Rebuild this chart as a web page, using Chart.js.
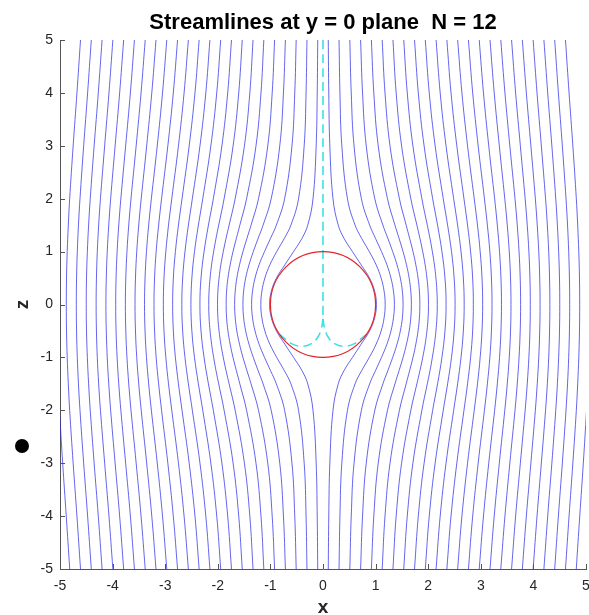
<!DOCTYPE html>
<html>
<head>
<meta charset="utf-8">
<script src="https://cdn.jsdelivr.net/npm/chart.js@4.4.1/dist/chart.umd.min.js"></script>
<style>
  html, body { margin: 0; padding: 0; background: #fff; overflow: hidden; }
  #wrap { position: relative; width: 620px; height: 615px; }
  #dot { position: absolute; left: 15px; top: 439px; width: 14px; height: 14px; border-radius: 50%; background: #000; }
</style>
</head>
<body>
<div id="wrap"><canvas id="chart" width="620" height="615"></canvas></div>
<div id="dot"></div>
<script>
// streamlines past a unit sphere, y = 0 plane
const title = "Streamlines at y = 0 plane  N = 12";

const innerLevels = [5, 4, 3, 2, 1.5, 1.25, 1, 0.75, 0.5, 0.25, 0, -0.25, -0.5, -0.75, -1, -1.25, -1.5, -2, -3, -4, -5];
const outerLevels = [5, 4, 3, 2, 1.5, 1, 0.5, 0, -0.5, -1, -1.5, -2, -3, -4, -5];

// lines close to the sphere (innerLevels)
const innerLeftX = [
  [-0.100, -0.110, -0.130, -0.190, -0.290, -0.400, -0.560, -0.725, -0.885, -0.982, -1.015, -0.982, -0.885, -0.725, -0.560, -0.400, -0.290, -0.190, -0.130, -0.110, -0.100],
  [-0.305, -0.322, -0.358, -0.465, -0.610, -0.735, -0.880, -1.010, -1.105, -1.162, -1.182, -1.162, -1.105, -1.010, -0.880, -0.735, -0.610, -0.465, -0.358, -0.322, -0.305],
  [-0.510, -0.537, -0.590, -0.730, -0.887, -0.998, -1.112, -1.215, -1.292, -1.340, -1.357, -1.340, -1.292, -1.215, -1.112, -0.998, -0.887, -0.730, -0.590, -0.537, -0.510],
  [-0.715, -0.752, -0.822, -0.985, -1.139, -1.233, -1.325, -1.407, -1.470, -1.509, -1.522, -1.509, -1.470, -1.407, -1.325, -1.233, -1.139, -0.985, -0.822, -0.752, -0.715],
  [-0.920, -0.966, -1.050, -1.226, -1.368, -1.446, -1.522, -1.587, -1.638, -1.669, -1.680, -1.669, -1.638, -1.587, -1.522, -1.446, -1.368, -1.226, -1.050, -0.966, -0.920],
  [-1.125, -1.179, -1.274, -1.453, -1.581, -1.647, -1.711, -1.765, -1.807, -1.833, -1.841, -1.833, -1.807, -1.765, -1.711, -1.647, -1.581, -1.453, -1.274, -1.179, -1.125],
  [-1.330, -1.391, -1.494, -1.670, -1.785, -1.843, -1.896, -1.942, -1.976, -1.998, -2.005, -1.998, -1.976, -1.942, -1.896, -1.843, -1.785, -1.670, -1.494, -1.391, -1.330],
  [-1.535, -1.602, -1.709, -1.880, -1.983, -2.034, -2.079, -2.118, -2.147, -2.166, -2.172, -2.166, -2.147, -2.118, -2.079, -2.034, -1.983, -1.880, -1.709, -1.602, -1.535],
];
const innerRightX = [
  [0.100, 0.110, 0.130, 0.190, 0.290, 0.400, 0.560, 0.725, 0.885, 0.982, 1.015, 0.982, 0.885, 0.725, 0.560, 0.400, 0.290, 0.190, 0.130, 0.110, 0.100],
  [0.305, 0.322, 0.358, 0.465, 0.610, 0.735, 0.880, 1.010, 1.105, 1.162, 1.182, 1.162, 1.105, 1.010, 0.880, 0.735, 0.610, 0.465, 0.358, 0.322, 0.305],
  [0.510, 0.537, 0.590, 0.730, 0.887, 0.998, 1.112, 1.215, 1.292, 1.340, 1.357, 1.340, 1.292, 1.215, 1.112, 0.998, 0.887, 0.730, 0.590, 0.537, 0.510],
  [0.715, 0.752, 0.822, 0.985, 1.139, 1.233, 1.325, 1.407, 1.470, 1.509, 1.522, 1.509, 1.470, 1.407, 1.325, 1.233, 1.139, 0.985, 0.822, 0.752, 0.715],
  [0.920, 0.966, 1.050, 1.226, 1.368, 1.446, 1.522, 1.587, 1.638, 1.669, 1.680, 1.669, 1.638, 1.587, 1.522, 1.446, 1.368, 1.226, 1.050, 0.966, 0.920],
  [1.125, 1.179, 1.274, 1.453, 1.581, 1.647, 1.711, 1.765, 1.807, 1.833, 1.841, 1.833, 1.807, 1.765, 1.711, 1.647, 1.581, 1.453, 1.274, 1.179, 1.125],
  [1.330, 1.391, 1.494, 1.670, 1.785, 1.843, 1.896, 1.942, 1.976, 1.998, 2.005, 1.998, 1.976, 1.942, 1.896, 1.843, 1.785, 1.670, 1.494, 1.391, 1.330],
  [1.535, 1.602, 1.709, 1.880, 1.983, 2.034, 2.079, 2.118, 2.147, 2.166, 2.172, 2.166, 2.147, 2.118, 2.079, 2.034, 1.983, 1.880, 1.709, 1.602, 1.535],
];

// lines further out (outerLevels); null = line already left the box
const outerLeftX = [
  [-1.740, -1.812, -1.922, -2.085, -2.178, -2.261, -2.319, -2.340, -2.319, -2.261, -2.178, -2.085, -1.922, -1.812, -1.740],
  [-1.945, -2.020, -2.132, -2.286, -2.369, -2.443, -2.493, -2.511, -2.493, -2.443, -2.369, -2.286, -2.132, -2.020, -1.945],
  [-2.150, -2.228, -2.339, -2.484, -2.559, -2.624, -2.668, -2.684, -2.668, -2.624, -2.559, -2.484, -2.339, -2.228, -2.150],
  [-2.355, -2.434, -2.544, -2.680, -2.748, -2.806, -2.845, -2.858, -2.845, -2.806, -2.748, -2.680, -2.544, -2.434, -2.355],
  [-2.560, -2.641, -2.748, -2.875, -2.937, -2.988, -3.023, -3.035, -3.023, -2.988, -2.937, -2.875, -2.748, -2.641, -2.560],
  [-2.765, -2.846, -2.950, -3.069, -3.125, -3.172, -3.202, -3.213, -3.202, -3.172, -3.125, -3.069, -2.950, -2.846, -2.765],
  [-2.970, -3.051, -3.151, -3.263, -3.314, -3.356, -3.383, -3.393, -3.383, -3.356, -3.314, -3.263, -3.151, -3.051, -2.970],
  [-3.175, -3.255, -3.352, -3.456, -3.503, -3.541, -3.565, -3.574, -3.565, -3.541, -3.503, -3.456, -3.352, -3.255, -3.175],
  [-3.380, -3.459, -3.552, -3.650, -3.693, -3.727, -3.749, -3.757, -3.749, -3.727, -3.693, -3.650, -3.552, -3.459, -3.380],
  [-3.585, -3.662, -3.752, -3.843, -3.883, -3.914, -3.934, -3.941, -3.934, -3.914, -3.883, -3.843, -3.752, -3.662, -3.585],
  [-3.790, -3.866, -3.952, -4.037, -4.073, -4.102, -4.120, -4.127, -4.120, -4.102, -4.073, -4.037, -3.952, -3.866, -3.790],
  [-3.995, -4.069, -4.151, -4.231, -4.265, -4.291, -4.307, -4.313, -4.307, -4.291, -4.265, -4.231, -4.151, -4.069, -3.995],
  [-4.200, -4.272, -4.351, -4.425, -4.456, -4.480, -4.496, -4.501, -4.496, -4.480, -4.456, -4.425, -4.351, -4.272, -4.200],
  [-4.405, -4.475, -4.550, -4.620, -4.649, -4.671, -4.685, -4.690, -4.685, -4.671, -4.649, -4.620, -4.550, -4.475, -4.405],
  [-4.610, -4.678, -4.750, -4.816, -4.842, -4.863, -4.876, -4.880, -4.876, -4.863, -4.842, -4.816, -4.750, -4.678, -4.610],
  [null, null, null, null, null, null, null, null, null, -5.055, -5.035, -5.010, -4.949, -4.881, -4.815],
];
const outerRightX = [
  [1.740, 1.812, 1.922, 2.085, 2.178, 2.261, 2.319, 2.340, 2.319, 2.261, 2.178, 2.085, 1.922, 1.812, 1.740],
  [1.945, 2.020, 2.132, 2.286, 2.369, 2.443, 2.493, 2.511, 2.493, 2.443, 2.369, 2.286, 2.132, 2.020, 1.945],
  [2.150, 2.228, 2.339, 2.484, 2.559, 2.624, 2.668, 2.684, 2.668, 2.624, 2.559, 2.484, 2.339, 2.228, 2.150],
  [2.355, 2.434, 2.544, 2.680, 2.748, 2.806, 2.845, 2.858, 2.845, 2.806, 2.748, 2.680, 2.544, 2.434, 2.355],
  [2.560, 2.641, 2.748, 2.875, 2.937, 2.988, 3.023, 3.035, 3.023, 2.988, 2.937, 2.875, 2.748, 2.641, 2.560],
  [2.765, 2.846, 2.950, 3.069, 3.125, 3.172, 3.202, 3.213, 3.202, 3.172, 3.125, 3.069, 2.950, 2.846, 2.765],
  [2.970, 3.051, 3.151, 3.263, 3.314, 3.356, 3.383, 3.393, 3.383, 3.356, 3.314, 3.263, 3.151, 3.051, 2.970],
  [3.175, 3.255, 3.352, 3.456, 3.503, 3.541, 3.565, 3.574, 3.565, 3.541, 3.503, 3.456, 3.352, 3.255, 3.175],
  [3.380, 3.459, 3.552, 3.650, 3.693, 3.727, 3.749, 3.757, 3.749, 3.727, 3.693, 3.650, 3.552, 3.459, 3.380],
  [3.585, 3.662, 3.752, 3.843, 3.883, 3.914, 3.934, 3.941, 3.934, 3.914, 3.883, 3.843, 3.752, 3.662, 3.585],
  [3.790, 3.866, 3.952, 4.037, 4.073, 4.102, 4.120, 4.127, 4.120, 4.102, 4.073, 4.037, 3.952, 3.866, 3.790],
  [3.995, 4.069, 4.151, 4.231, 4.265, 4.291, 4.307, 4.313, 4.307, 4.291, 4.265, 4.231, 4.151, 4.069, 3.995],
  [4.200, 4.272, 4.351, 4.425, 4.456, 4.480, 4.496, 4.501, 4.496, 4.480, 4.456, 4.425, 4.351, 4.272, 4.200],
  [4.405, 4.475, 4.550, 4.620, 4.649, 4.671, 4.685, 4.690, 4.685, 4.671, 4.649, 4.620, 4.550, 4.475, 4.405],
  [4.610, 4.678, 4.750, 4.816, 4.842, 4.863, 4.876, 4.880, 4.876, 4.863, 4.842, 4.816, 4.750, 4.678, 4.610],
  [null, null, null, null, null, null, null, null, null, 5.055, 5.035, 5.010, 4.949, 4.881, 4.815],
];

// cyan dashed dividing line (axis, then two branches inside the sphere)
const cyanAxisX = [0, 0];
const cyanAxisZ = [5, -0.27];
const cyanLeftX = [0, -0.03, -0.10, -0.22, -0.40, -0.60, -0.82];
const cyanLeftZ = [-0.27, -0.45, -0.62, -0.74, -0.79, -0.74, -0.57];
const cyanRightX = [0, 0.03, 0.10, 0.22, 0.40, 0.60, 0.82];
const cyanRightZ = [-0.27, -0.45, -0.62, -0.74, -0.79, -0.74, -0.57];

const sphere = { x: 0, z: 0, r: 1 };

const font = "'Liberation Sans', Arial, Helvetica, sans-serif";
const ink = "#262626";
const blue = "rgba(35, 35, 230, 0.7)";
const cyan = "#3fe0e3";

function pts(xs, zs) {
  return xs.map((x, i) => ({ x, y: zs[i] })).filter((p) => p.x !== null);
}

function stream(xs, zs) {
  return { data: pts(xs, zs), borderColor: blue, borderWidth: 1, tension: 0.4, showLine: true, pointRadius: 0, clip: 0 };
}

function dashed(xs, zs) {
  return { data: pts(xs, zs), borderColor: cyan, borderWidth: 1.6, borderDash: [9, 5], tension: 0.4, showLine: true, pointRadius: 0, clip: 0 };
}

const datasets = [
  ...innerLeftX.map((xs) => stream(xs, innerLevels)),
  ...innerRightX.map((xs) => stream(xs, innerLevels)),
  ...outerLeftX.map((xs) => stream(xs, outerLevels)),
  ...outerRightX.map((xs) => stream(xs, outerLevels)),
  dashed(cyanAxisX, cyanAxisZ),
  dashed(cyanLeftX, cyanLeftZ),
  dashed(cyanRightX, cyanRightZ),
];

const decor = {
  id: "decor",
  afterDatasetsDraw(chart) {
    const { ctx, chartArea: a, scales: { x, y } } = chart;
    const cx = x.getPixelForValue(sphere.x);
    const cy = y.getPixelForValue(sphere.z);
    const rx = x.getPixelForValue(sphere.x + sphere.r) - cx;
    const ry = cy - y.getPixelForValue(sphere.z + sphere.r);
    ctx.save();
    ctx.strokeStyle = "#e2262a";
    ctx.lineWidth = 1.2;
    ctx.beginPath();
    ctx.ellipse(cx, cy, rx, ry, 0, 0, Math.PI * 2);
    ctx.stroke();

    // matlab-style ticks pointing inwards
    ctx.strokeStyle = "#555";
    ctx.lineWidth = 1;
    ctx.beginPath();
    for (const t of x.ticks) {
      const p = Math.round(x.getPixelForValue(t.value)) + 0.5;
      ctx.moveTo(p, a.bottom);
      ctx.lineTo(p, a.bottom - 5);
    }
    for (const t of y.ticks) {
      const p = Math.round(y.getPixelForValue(t.value)) + 0.5;
      ctx.moveTo(a.left, p);
      ctx.lineTo(a.left + 5, p);
    }
    ctx.stroke();

    ctx.fillStyle = "#000";
    ctx.font = "bold 22px " + font;
    ctx.textAlign = "center";
    ctx.textBaseline = "middle";
    ctx.fillText(title, (a.left + a.right) / 2, 23);
    ctx.restore();
  },
};

new Chart(document.getElementById("chart"), {
  type: "scatter",
  data: { datasets },
  plugins: [decor],
  options: {
    responsive: false,
    animation: false,
    devicePixelRatio: 1,
    layout: { padding: { top: 40, right: 34, bottom: 0, left: 0 } },
    plugins: { legend: { display: false }, tooltip: { enabled: false } },
    scales: {
      x: {
        type: "linear",
        min: -5,
        max: 5,
        afterFit: (s) => { s.height = 46; },
        grid: { display: false, drawTicks: false },
        border: { display: true, color: "#555", width: 1 },
        ticks: { stepSize: 1, padding: 9, color: ink, font: { size: 14, family: font }, maxRotation: 0, autoSkip: false },
        title: { display: true, text: "x", color: ink, font: { size: 19, weight: "bold", family: font }, padding: { top: 0, bottom: -4 } },
      },
      y: {
        type: "linear",
        min: -5,
        max: 5,
        afterFit: (s) => { s.width = 60; },
        grid: { display: false, drawTicks: false },
        border: { display: true, color: "#555", width: 1 },
        ticks: { stepSize: 1, padding: 7, color: ink, font: { size: 14, family: font }, autoSkip: false },
        title: { display: true, text: "z", color: ink, font: { size: 19, weight: "bold", family: font }, padding: { top: 11, bottom: 0 } },
      },
    },
  },
});
</script>
</body>
</html>
